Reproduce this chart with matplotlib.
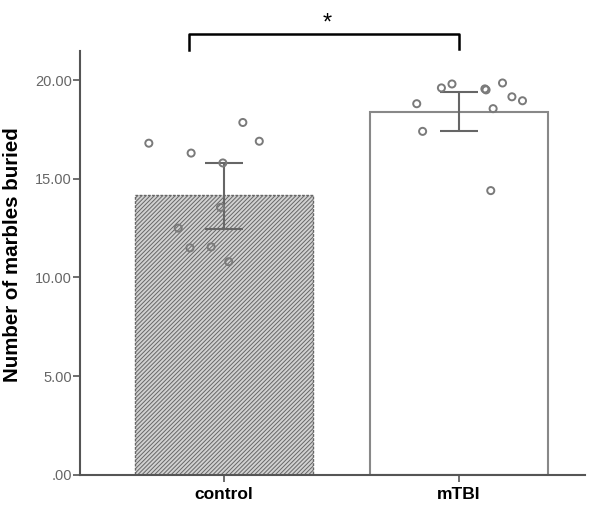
import numpy as np
import matplotlib.pyplot as plt

plt.rcParams['font.family'] = ['Liberation Sans', 'DejaVu Sans']

# Data
groups = ['control', 'mTBI']
means = [14.2, 18.4]
err_low = [12.46, 17.42]
err_high = [15.8, 19.4]

control_pts_x = [-0.32, -0.14, 0.08, 0.15, -0.005, -0.015, -0.195, -0.145, -0.055, 0.02]
control_pts_y = [16.8, 16.3, 17.85, 16.9, 15.8, 13.55, 12.5, 11.5, 11.55, 10.8]
mtbi_pts_x = [-0.075, -0.03, 0.11, 0.185, 0.225, 0.27, 0.145, -0.18, -0.155, 0.135, 0.115]
mtbi_pts_y = [19.6, 19.8, 19.55, 19.85, 19.15, 18.95, 18.55, 18.8, 17.4, 14.4, 19.5]

fig = plt.figure(figsize=(6, 5.15), dpi=100)
ax = fig.add_axes([0.1333, 0.0777, 0.975 - 0.1333, 0.901 - 0.0777])

x = np.arange(len(groups))
plt.rcParams['hatch.linewidth'] = 0.7
plt.rcParams['hatch.color'] = '#9a9a9a'
ax.bar(x[0], means[0], width=0.757, color='#d2d2d2', edgecolor='#666666',
       linewidth=1.0, linestyle=(0, (2, 1)), hatch='////////', zorder=2)
ax.bar(x[1], means[1], width=0.757, color='white', edgecolor='#888888',
       linewidth=1.5, zorder=2)

yerr = [[m - lo for m, lo in zip(means, err_low)], [hi - m for m, hi in zip(means, err_high)]]
ax.errorbar(x, means, yerr=yerr, fmt='none', ecolor='#666666', elinewidth=1.5,
            capsize=14, capthick=1.5, zorder=3)

ax.scatter(np.array(control_pts_x) + x[0], control_pts_y, s=26, facecolor='none',
           edgecolor='#7a7a7a', linewidth=1.4, zorder=4)
ax.scatter(np.array(mtbi_pts_x) + x[1], mtbi_pts_y, s=26, facecolor='none',
           edgecolor='#7a7a7a', linewidth=1.4, zorder=4)

ax.set_xlim(-0.613, 1.536)
ax.set_ylim(0, 21.47)
ax.set_yticks([0, 5, 10, 15, 20])
ax.set_yticklabels(['.00', '5.00', '10.00', '15.00', '20.00'], color='#666666', fontsize=10.5)
ax.set_xticks(x)
ax.set_xticklabels(groups, fontsize=12.5, fontweight='bold')
ax.tick_params(axis='y', length=5, width=1.2, color='#555555', pad=1)
ax.tick_params(axis='x', length=5, width=1.2, color='#555555', pad=4)
ax.set_ylabel('Number of marbles buried', fontsize=14.8, fontweight='bold')
ax.yaxis.set_label_coords(-0.114, 0.519)

for s in ['top', 'right']:
    ax.spines[s].set_visible(False)
for s in ['left', 'bottom']:
    ax.spines[s].set_color('#555555')
    ax.spines[s].set_linewidth(1.5)

# significance bracket
ax.plot([-0.15, -0.15, 1.0, 1.0], [21.5, 22.33, 22.33, 21.55], color='black',
        linewidth=1.8, clip_on=False)
ax.text(0.438, 22.85, '*', ha='center', va='center', fontsize=17)

plt.savefig('out.png', dpi=100)
